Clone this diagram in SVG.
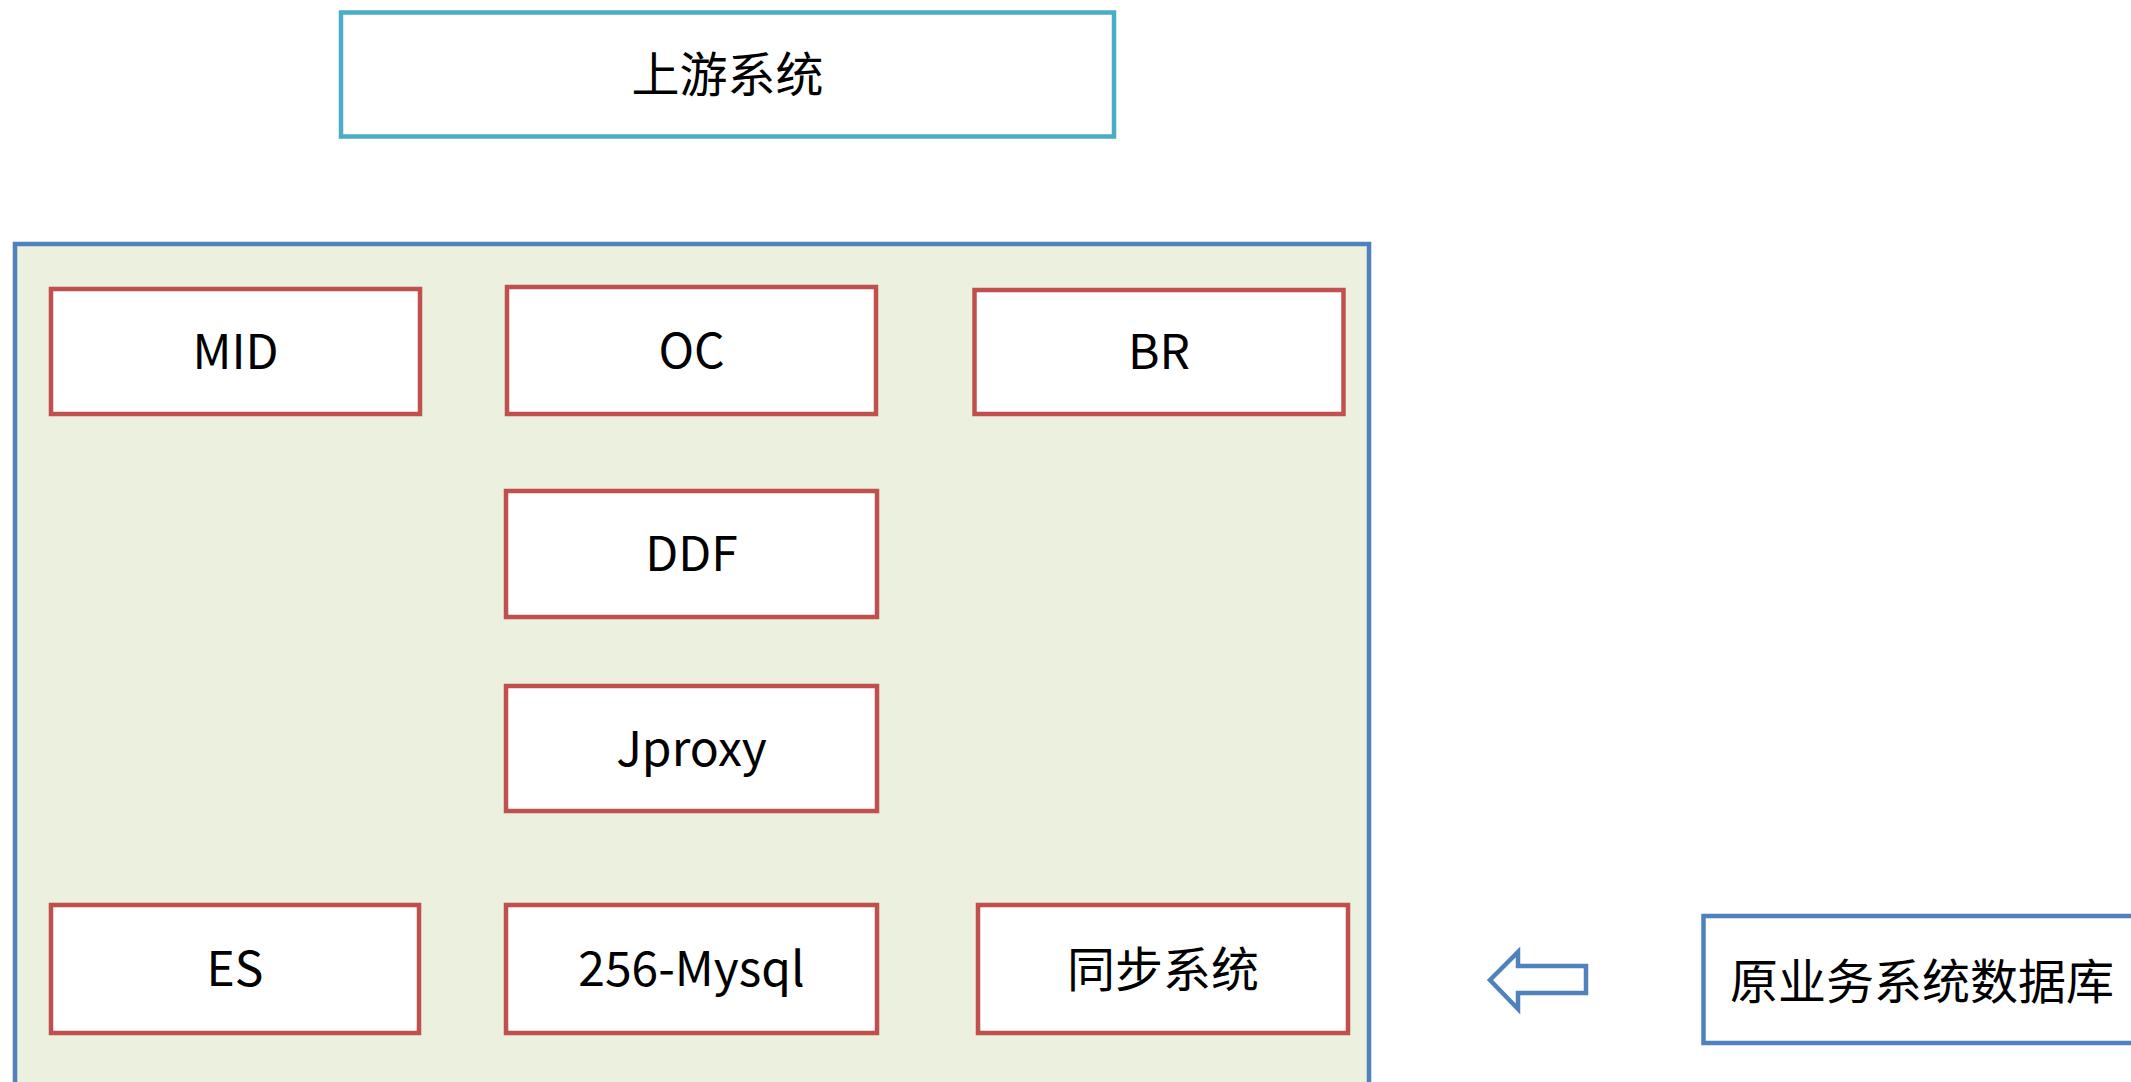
<svg xmlns="http://www.w3.org/2000/svg" width="2131" height="1082" viewBox="0 0 2131 1082">
<style>
.box{fill:#FFFFFF;stroke:#C0504D;stroke-width:4.5}
.lbl{font-family:"Noto Sans CJK SC","Liberation Sans",sans-serif;font-size:48px;fill:#000000;text-anchor:middle;dominant-baseline:central}
</style>
<rect x="0" y="0" width="2131" height="1082" fill="#FFFFFF"/>
<g id="upstream">
<rect x="341" y="12.5" width="773" height="124" fill="#FFFFFF" stroke="#4BACC6" stroke-width="4.5"/>
<text class="lbl" x="727.5" y="71">上游系统</text>
</g>
<g id="container">
<rect x="15" y="244" width="1354" height="900" fill="#EBF1DE" stroke="#4F81BD" stroke-width="4.5"/>
</g>
<g id="mid"><rect class="box" x="51" y="289" width="369" height="125"/><text class="lbl" x="235.5" y="347.5">MID</text></g>
<g id="oc"><rect class="box" x="507" y="287" width="369" height="127"/><text class="lbl" x="691.5" y="346.5">OC</text></g>
<g id="br"><rect class="box" x="974.5" y="290" width="369" height="124"/><text class="lbl" x="1159" y="348">BR</text></g>
<g id="ddf"><rect class="box" x="506" y="491" width="371" height="126"/><text class="lbl" x="691.5" y="550">DDF</text></g>
<g id="jproxy"><rect class="box" x="506" y="686" width="371" height="125"/><text class="lbl" x="691.5" y="745">Jproxy</text></g>
<g id="es"><rect class="box" x="51" y="905" width="368" height="128"/><text class="lbl" x="235" y="965">ES</text></g>
<g id="mysql"><rect class="box" x="506" y="905" width="371" height="128"/><text class="lbl" x="691.5" y="965">256-Mysql</text></g>
<g id="sync"><rect class="box" x="978" y="905" width="370" height="128"/><text class="lbl" x="1163" y="966">同步系统</text></g>
<g id="sourcedb">
<rect x="1703.5" y="916" width="500" height="127" fill="#FFFFFF" stroke="#4F81BD" stroke-width="4.5"/>
<text class="lbl" x="1922" y="978">原业务系统数据库</text>
</g>
<g id="connectors">
<polygon points="1490,980 1518,952 1518,966 1586,966 1586,993 1518,993 1518,1009" fill="#FFFFFF" stroke="#4F81BD" stroke-width="4.5"/>
</g>
</svg>
